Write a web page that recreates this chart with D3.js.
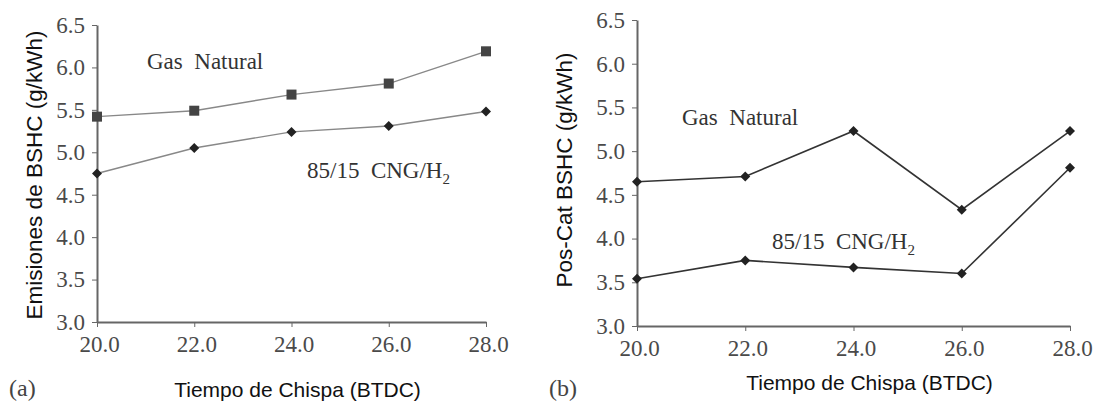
<!DOCTYPE html>
<html>
<head>
<meta charset="utf-8">
<script src="https://d3js.org/d3.v7.min.js"></script>
<style>
  html, body { margin: 0; padding: 0; background: #fff; }
  svg { display: block; }
  .tick text { font-family: "Liberation Serif", "DejaVu Serif", serif; fill: #4a4a4a; }
  .axis path, .axis line { stroke: #666; }
</style>
</head>
<body>
<script>
"use strict";
// Spark timing (BTDC) on the x axis, shared by both panels
const timing = [20, 22, 24, 26, 28];
const xTicks = [20, 22, 24, 26, 28];
const yTicks = [3.0, 3.5, 4.0, 4.5, 5.0, 5.5, 6.0, 6.5];

// (a) engine-out BSHC, g/kWh
const engGas = [5.42, 5.49, 5.68, 5.81, 6.19];
const engMix = [4.75, 5.05, 5.24, 5.31, 5.48];
// (b) post-catalyst BSHC, g/kWh
const catGas = [4.65, 4.71, 5.23, 4.33, 5.23];
const catMix = [3.54, 3.75, 3.67, 3.60, 4.81];

const W = 1096, H = 405;
const svg = d3.select("body").append("svg").attr("width", W).attr("height", H);

function diamond(g, x, y, r, fill) {
  g.append("path")
    .attr("d", `M${x},${y - r}L${x + r},${y}L${x},${y + r}L${x - r},${y}Z`)
    .attr("fill", fill);
}

function drawPanel(p) {
  const x = d3.scaleLinear().domain([20, 28]).range([p.x0, p.x1]);
  const y = d3.scaleLinear().domain([3, 6.5]).range([p.y1, p.y0]);
  const g = svg.append("g");

  g.append("g").attr("class", "axis").attr("transform", `translate(0,${p.y1})`)
    .call(d3.axisBottom(x).tickValues(xTicks).tickFormat(d3.format(".1f")).tickSizeInner(5).tickSizeOuter(0).tickPadding(9))
    .call((a) => a.selectAll("text").attr("font-size", 23).attr("dx", 2))
    .call((a) => a.select("path").attr("stroke-width", 2));
  g.append("g").attr("class", "axis").attr("transform", `translate(${p.x0},0)`)
    .call(d3.axisLeft(y).tickValues(yTicks).tickFormat(d3.format(".1f")).tickSizeInner(5).tickSizeOuter(0).tickPadding(7))
    .call((a) => a.selectAll("text").attr("font-size", 23))
    .call((a) => a.select("path").attr("stroke-width", 2));

  const line = d3.line().x((d, i) => x(timing[i])).y((d) => y(d));
  p.series.forEach((s) => {
    g.append("path").datum(s.values).attr("d", line)
      .attr("fill", "none").attr("stroke", s.stroke).attr("stroke-width", s.width);
    s.values.forEach((v, i) => {
      const cx = x(timing[i]), cy = y(v);
      if (s.marker === "square") {
        g.append("rect").attr("x", cx - 5).attr("y", cy - 5).attr("width", 10).attr("height", 10).attr("fill", "#444");
      } else {
        diamond(g, cx, cy, 5, "#222");
      }
    });
  });

  // series annotations
  p.notes.forEach((n) => {
    const t = g.append("text").attr("x", n.x).attr("y", n.y)
      .attr("font-family", "Liberation Serif, serif").attr("font-size", 23).attr("fill", "#333")
      .attr("xml:space", "preserve");
    t.append("tspan").text(n.text);
    if (n.sub) t.append("tspan").attr("font-size", 15).attr("dy", 6).text(n.sub);
  });

  g.append("text").attr("x", (p.x0 + p.x1) / 2 + p.xLabelDx).attr("y", p.xLabelY)
    .attr("text-anchor", "middle").attr("font-family", "Liberation Sans, Arial, sans-serif")
    .attr("font-size", 21).attr("fill", "#111").text("Tiempo de Chispa (BTDC)");
  g.append("text").attr("transform", `translate(${p.yLabelX},${p.yLabelY}) rotate(-90)`)
    .attr("text-anchor", "middle").attr("font-family", "Liberation Sans, Arial, sans-serif")
    .attr("font-size", 22.5).attr("fill", "#111").text(p.yLabel);
  g.append("text").attr("x", p.tagX).attr("y", p.tagY)
    .attr("font-family", "Liberation Serif, serif").attr("font-size", 24).attr("fill", "#444").text(p.tag);
}

drawPanel({
  x0: 97, x1: 486, y0: 25, y1: 322, xLabelDx: 6, xLabelY: 397,
  yLabel: "Emisiones de BSHC (g/kWh)", yLabelX: 42, yLabelY: 175,
  tag: "(a)", tagX: 9, tagY: 396,
  series: [
    { values: engGas, stroke: "#888", width: 1.4, marker: "square" },
    { values: engMix, stroke: "#888", width: 1.4, marker: "diamond" }
  ],
  notes: [
    { x: 147, y: 69, text: "Gas  Natural" },
    { x: 307, y: 178, text: "85/15  CNG/H", sub: "2" }
  ]
});

drawPanel({
  x0: 637, x1: 1070, y0: 20, y1: 326, xLabelDx: 16, xLabelY: 390,
  yLabel: "Pos-Cat BSHC (g/kWh)", yLabelX: 572, yLabelY: 170,
  tag: "(b)", tagX: 549, tagY: 396,
  series: [
    { values: catGas, stroke: "#333", width: 1.6, marker: "diamond" },
    { values: catMix, stroke: "#333", width: 1.6, marker: "diamond" }
  ],
  notes: [
    { x: 682, y: 125, text: "Gas  Natural" },
    { x: 772, y: 249, text: "85/15  CNG/H", sub: "2" }
  ]
});
</script>
</body>
</html>
